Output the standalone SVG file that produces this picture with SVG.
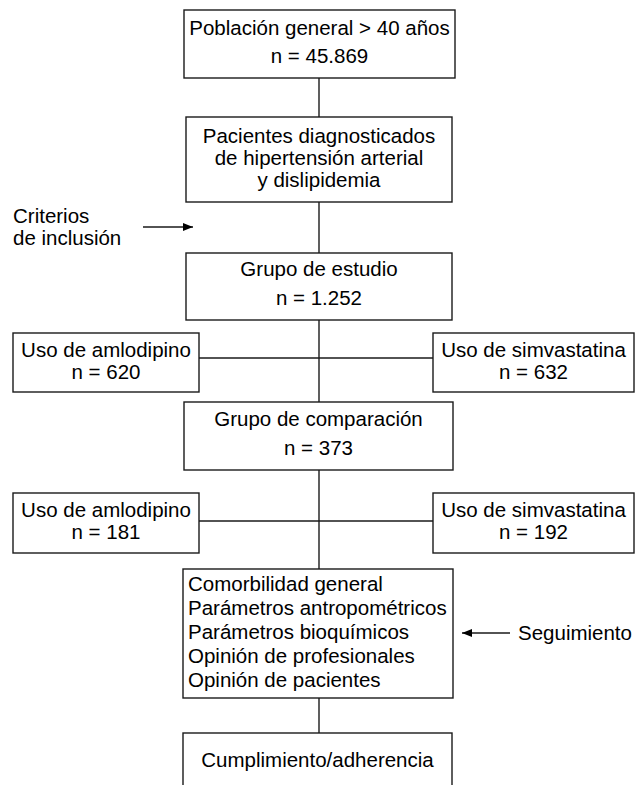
<svg xmlns="http://www.w3.org/2000/svg" width="644" height="785" viewBox="0 0 644 785">
<style>
rect{fill:#fff;stroke:#1a1a1a;stroke-width:1.4}
text{font-family:"Liberation Sans",Arial,sans-serif;font-size:20.5px;fill:#000}
.c{text-anchor:middle}
.l{fill:none;stroke:#1a1a1a;stroke-width:1.4}
</style>
<defs>
<marker id="ah" markerWidth="10" markerHeight="8" refX="10" refY="4" orient="auto" markerUnits="userSpaceOnUse">
<path d="M0,0 L10,4 L0,8 Z" fill="#000"/>
</marker>
</defs>
<rect x="0" y="0" width="644" height="785" style="stroke:none"/>
<g id="connectors">
<path class="l" d="M319,78 V117"/>
<path class="l" d="M319,202 V253"/>
<path class="l" d="M319,320 V402"/>
<path class="l" d="M199,358 H433"/>
<path class="l" d="M319,470 V569"/>
<path class="l" d="M199,521 H433"/>
<path class="l" d="M319,698 V733"/>
<path class="l" d="M143,227 H193" marker-end="url(#ah)"/>
<path class="l" d="M510,633 H462" marker-end="url(#ah)"/>
</g>
<g id="poblacion">
<rect x="184" y="10" width="271" height="68"/>
<text class="c" x="319.5" y="35">Población general &gt; 40 años</text>
<text class="c" x="319.5" y="63">n = 45.869</text>
</g>
<g id="pacientes">
<rect x="186" y="117" width="266" height="85"/>
<text class="c" x="319" y="143">Pacientes diagnosticados</text>
<text class="c" x="319" y="165">de hipertensión arterial</text>
<text class="c" x="319" y="187">y dislipidemia</text>
</g>
<g id="criterios">
<text x="13" y="223">Criterios</text>
<text x="13" y="245">de inclusión</text>
</g>
<g id="estudio">
<rect x="186" y="253" width="266" height="67"/>
<text class="c" x="319" y="276">Grupo de estudio</text>
<text class="c" x="319" y="305">n = 1.252</text>
</g>
<g id="amlodipino1">
<rect x="13" y="333" width="186" height="59"/>
<text class="c" x="106" y="357">Uso de amlodipino</text>
<text class="c" x="106" y="379">n = 620</text>
</g>
<g id="simvastatina1">
<rect x="433" y="333" width="201" height="59"/>
<text class="c" x="533.5" y="357">Uso de simvastatina</text>
<text class="c" x="533.5" y="379">n = 632</text>
</g>
<g id="comparacion">
<rect x="184" y="402" width="269" height="68"/>
<text class="c" x="318.5" y="426">Grupo de comparación</text>
<text class="c" x="318.5" y="455">n = 373</text>
</g>
<g id="amlodipino2">
<rect x="13" y="493" width="186" height="60"/>
<text class="c" x="106" y="517">Uso de amlodipino</text>
<text class="c" x="106" y="539">n = 181</text>
</g>
<g id="simvastatina2">
<rect x="433" y="493" width="201" height="60"/>
<text class="c" x="533.5" y="517">Uso de simvastatina</text>
<text class="c" x="533.5" y="539">n = 192</text>
</g>
<g id="seguimiento-box">
<rect x="183" y="569" width="270" height="129"/>
<text x="188" y="591">Comorbilidad general</text>
<text x="188" y="615">Parámetros antropométricos</text>
<text x="188" y="639">Parámetros bioquímicos</text>
<text x="188" y="663">Opinión de profesionales</text>
<text x="188" y="687">Opinión de pacientes</text>
</g>
<g id="seguimiento">
<text x="518" y="640">Seguimiento</text>
</g>
<g id="cumplimiento">
<rect x="183" y="733" width="269" height="70"/>
<text class="c" x="317.5" y="767">Cumplimiento/adherencia</text>
</g>
</svg>
